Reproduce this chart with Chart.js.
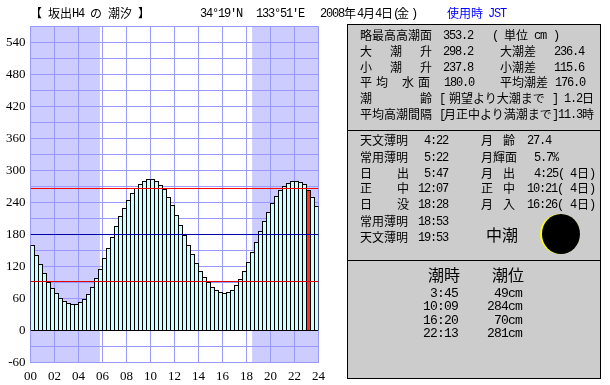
<!DOCTYPE html>
<html>
<head>
<meta charset="utf-8">
<script src="https://cdn.jsdelivr.net/npm/chart.js@4/dist/chart.umd.min.js"></script>
<style>
  body { margin: 0; background: #fff; width: 610px; height: 385px; overflow: hidden; position: relative; }
  #canvas { position: absolute; left: 0; top: 0; }
  .panel { position: absolute; left: 347px; width: 252px; background: #ccc; border: 1px solid #000; box-sizing: content-box; }
  .t { position: absolute; white-space: pre; line-height: 0; color: #000; }
  .j { font: 12px "Noto Sans CJK JP"; line-height: 0; }
  .m { font: 12px "Liberation Mono"; letter-spacing: -1.2px; line-height: 0; margin-top: 1px; }
  .big { font: 16px "Noto Sans CJK JP"; line-height: 0; }
  .tide { font: 13px "Liberation Mono"; letter-spacing: -0.8px; line-height: 0; }
  .blue { color: #00f; }
  .moon { position: absolute; border-radius: 50%; }
</style>
</head>
<body>
<canvas id="canvas" width="610" height="385"></canvas>
<div class="panel" style="top:24px;height:105px"></div>
<div class="panel" style="top:130px;height:129px"></div>
<div class="panel" style="top:260px;height:117px"></div>
<div class="moon" style="left:540px;top:214px;width:40px;height:40px;background:#ff0"></div>
<div class="moon" style="left:542px;top:214px;width:38px;height:40px;background:#000"></div>
<script>
  // tide height every 20 minutes, from 00:00 (cm)
  const tideValues = [
    160.3, 141.6, 124.7, 107.8, 90.9, 79.7, 70.3, 60.9, 55.3, 51.6, 49.7, 49.7,
    53.4, 59.1, 68.4, 81.6, 98.4, 115.3, 135.9, 154.7, 175.3, 195.9, 214.7, 229.7,
    244.7, 257.8, 267.2, 274.7, 280.3, 284.1, 284.1, 280.3, 272.8, 265.3, 250.3, 235.3,
    216.6, 197.8, 179.1, 160.3, 143.4, 126.6, 111.6, 100.3, 90.9, 81.6, 75.9, 72.2,
    70.3, 72.2, 75.9, 85.3, 96.6, 111.6, 128.4, 147.2, 165.9, 186.6, 205.3, 222.2,
    239.1, 252.2, 263.4, 270.9, 276.6, 280.3, 280.3, 278.4, 274.7, 263.4, 250.3, 233.4
  ];
  const currentSlot = 69;
  const highLevel = 266.25;
  const meanLevel = 180;
  const lowLevel = 91.875;
  const nightBands = [[0, 5 + 47 / 60], [18 + 28 / 60, 24]];
  const xTickLabels = ["00","02","04","06","08","10","12","14","16","18","20","22","24"];
  const yTickLabels = [-60, 0, 60, 120, 180, 240, 300, 360, 420, 480, 540];

  const level = y => [{x: 0, y: y}, {x: 24, y: y}];
  const hline = (y, color) => ({
    type: 'line', data: level(y), borderColor: color, borderWidth: 1,
    pointRadius: 0, order: 0
  });

  const nightShade = {
    id: 'nightShade',
    beforeDraw(chart) {
      const ctx = chart.ctx, x = chart.scales.x, y = chart.scales.y;
      ctx.save();
      ctx.fillStyle = '#ccccff';
      nightBands.forEach(b => {
        const a = x.getPixelForValue(b[0]);
        ctx.fillRect(a, y.top, x.getPixelForValue(b[1]) - a, y.bottom - y.top);
      });
      ctx.restore();
    }
  };

  new Chart(document.getElementById('canvas'), {
    type: 'bar',
    data: {
      datasets: [
        hline(highLevel, '#ff0000'),
        hline(meanLevel, '#0000aa'),
        hline(lowLevel, '#e00000'),
        hline(0, '#000000'),
        {
          data: tideValues.map((v, i) => ({x: (i * 20 + 10) / 60, y: v})),
          backgroundColor: tideValues.map((v, i) => i == currentSlot ? '#ff3322' : '#ccffff'),
          borderColor: '#000',
          borderWidth: 1,
          borderSkipped: 'bottom',
          inflateAmount: 0,
          barThickness: 5,
          order: 1
        }
      ]
    },
    options: {
      responsive: false,
      animation: false,
      layout: {padding: {left: 0, top: 26.5, right: 291.5, bottom: 0}},
      plugins: {legend: {display: false}, tooltip: {enabled: false}},
      scales: {
        x: {
          type: 'linear', min: 0, max: 24, offset: false,
          afterFit: s => { s.height = 22.5; },
          grid: {color: '#9999ff', drawTicks: false, offset: false},
          border: {color: '#9999ff'},
          ticks: {
            stepSize: 2, autoSkip: false, maxRotation: 0, padding: 6, color: '#000',
            font: {family: 'Liberation Sans Narrow', size: 13},
            callback: (v, i) => xTickLabels[i]
          }
        },
        y: {
          min: -60, max: 570,
          afterFit: s => { s.width = 30.5; },
          grid: {color: '#9999ff', drawTicks: false},
          border: {color: '#9999ff'},
          ticks: {
            stepSize: 30, autoSkip: false, padding: 5, color: '#000',
            font: {family: 'Liberation Sans Narrow', size: 13},
            callback: v => yTickLabels.includes(v) ? String(v) : ''
          }
        }
      }
    },
    plugins: [nightShade]
  });

  // x, y (middle of the line), text, class; negative x means right aligned at -x
  const texts = [
    [30,13,"【","j"],[48,13,"坂出","j"],[72,13,"H4","m"],[90,13,"の","j"],[108,13,"潮汐","j"],[138,13,"】","j"],
    [200,13,"34°19'N","m"],[256,13,"133°51'E","m"],
    [320,13,"2008","m"],[344,13,"年","j"],[357,13,"4","m"],[363,13,"月","j"],[375,13,"4","m"],[381,13,"日","j"],
    [393,13,"(","m"],[397,13,"金","j"],[411,13,")","m"],
    [447,13,"使用時","j blue"],[488,13,"JST","m blue"],

    [360,35,"略最高高潮面","j"],[443,35,"353.2","m"],[492,35,"(","m"],[504,35,"単位","j"],[534,35,"cm","m"],[553,35,")","m"],
    [360,51,"大","j"],[390,51,"潮","j"],[420,51,"升","j"],[443,51,"298.2","m"],[500,51,"大潮差","j"],[554,51,"236.4","m"],
    [360,67,"小","j"],[390,67,"潮","j"],[420,67,"升","j"],[443,67,"237.8","m"],[500,67,"小潮差","j"],[554,67,"115.6","m"],
    [360,82,"平","j"],[376,82,"均","j"],[402,82,"水","j"],[418,82,"面","j"],[444,82,"180.0","m"],[500,82,"平均潮差","j"],[555,82,"176.0","m"],
    [360,98,"潮","j"],[420,98,"齢","j"],[439,98,"[","m"],[449,98,"朔望より大潮まで","j"],[552,98,"]","m"],[564,98,"1.2","m"],[582,98,"日","j"],
    [360,114,"平均高潮間隔","j"],[439,114,"[","m"],[444,114,"月正中より満潮まで","j"],[552,114,"]","m"],[558,114,"11.3","m"],[582,114,"時","j"],

    [360,140,"天文薄明","j"],[-448,140,"4:22","m"],[481,140,"月","j"],[503,140,"齢","j"],[527,140,"27.4","m"],
    [360,157,"常用薄明","j"],[-448,157,"5:22","m"],[481,157,"月輝面","j"],[534,157,"5.7%","m"],
    [360,173,"日","j"],[397,173,"出","j"],[-448,173,"5:47","m"],[481,173,"月","j"],[503,173,"出","j"],[534,173,"4:25(","m"],[570,173,"4","m"],[577,173,"日","j"],[589,173,")","m"],
    [360,188,"正","j"],[397,188,"中","j"],[-448,188,"12:07","m"],[481,188,"正","j"],[503,188,"中","j"],[527,188,"10:21(","m"],[570,188,"4","m"],[577,188,"日","j"],[589,188,")","m"],
    [360,204,"日","j"],[397,204,"没","j"],[-448,204,"18:28","m"],[481,204,"月","j"],[503,204,"入","j"],[527,204,"16:26(","m"],[570,204,"4","m"],[577,204,"日","j"],[589,204,")","m"],
    [360,221,"常用薄明","j"],[-448,221,"18:53","m"],
    [360,237,"天文薄明","j"],[-448,237,"19:53","m"],[486,234,"中潮","big"],

    [428,274,"潮時","big"],[492,274,"潮位","big"],
    [-458,294,"3:45","tide"],[-522,294,"49cm","tide"],
    [-458,307,"10:09","tide"],[-522,307,"284cm","tide"],
    [-458,321,"16:20","tide"],[-522,321,"70cm","tide"],
    [-458,334,"22:13","tide"],[-522,334,"281cm","tide"]
  ];

  texts.forEach(r => {
    const el = document.createElement('div');
    el.className = 't ' + r[3];
    el.textContent = r[2];
    el.style.top = r[1] + 'px';
    if (r[0] < 0) el.style.right = (610 + r[0]) + 'px';
    else el.style.left = r[0] + 'px';
    document.body.appendChild(el);
  });
</script>
</body>
</html>
